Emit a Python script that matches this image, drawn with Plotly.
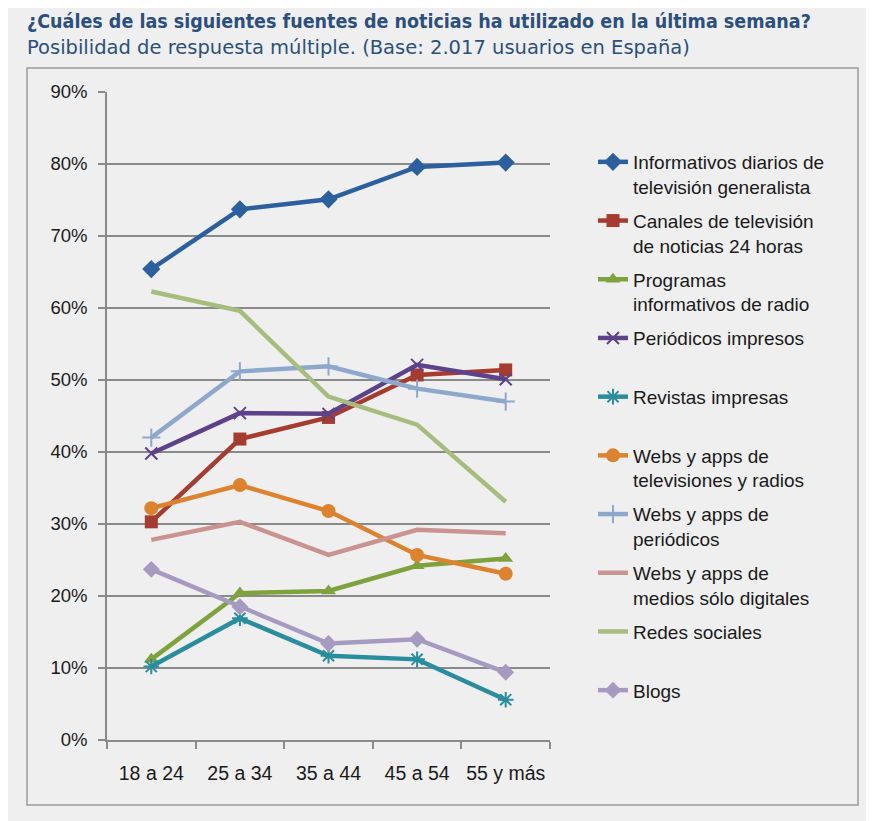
import plotly.graph_objects as go

categories = ["18 a 24", "25 a 34", "35 a 44", "45 a 54", "55 y más"]

informativos_tv = [65.4, 73.7, 75.1, 79.6, 80.2]
canales_24h = [30.3, 41.8, 44.8, 50.7, 51.4]
programas_radio = [11.2, 20.4, 20.7, 24.2, 25.2]
periodicos_impresos = [39.8, 45.4, 45.3, 52.1, 50.1]
revistas_impresas = [10.2, 16.9, 11.7, 11.2, 5.6]
webs_tv_radio = [32.2, 35.4, 31.8, 25.7, 23.1]
webs_periodicos = [42.0, 51.2, 51.9, 48.8, 47.0]
webs_digitales = [27.8, 30.3, 25.7, 29.2, 28.7]
redes_sociales = [62.3, 59.6, 47.7, 43.8, 33.1]
blogs = [23.7, 18.5, 13.4, 14.0, 9.4]

y_ticks = [0, 10, 20, 30, 40, 50, 60, 70, 80, 90]

series = [
    ("Informativos diarios de<br>televisión generalista", informativos_tv, "#2c5f9e", "diamond", 14, 0),
    ("Canales de televisión<br>de noticias 24 horas", canales_24h, "#a63c30", "square", 13, 0),
    ("Programas<br>informativos de radio", programas_radio, "#7ea23c", "triangle-up", 13, 0),
    ("Periódicos impresos<br> ", periodicos_impresos, "#5d4289", "x-thin-open", 12, 2),
    ("Revistas impresas<br> ", revistas_impresas, "#2a8d9e", "asterisk-open", 13, 2),
    ("Webs y apps de<br>televisiones y radios", webs_tv_radio, "#dd822e", "circle", 14, 0),
    ("Webs y apps de<br>periódicos", webs_periodicos, "#8ea8cb", "cross-thin-open", 13, 2),
    ("Webs y apps de<br>medios sólo digitales", webs_digitales, "#c99390", None, 0, 0),
    ("Redes sociales<br> ", redes_sociales, "#a6bd7e", None, 0, 0),
    ("Blogs<br> ", blogs, "#a59bc0", "diamond", 13, 0),
]

FONT = "Liberation Sans, Arial, sans-serif"
TFONT = "DejaVu Sans Condensed, Liberation Sans Narrow, Arial Narrow, sans-serif"
SFONT = "DejaVu Sans, Liberation Sans, sans-serif"

# page body adds 8px offset; figure sized to fill the remaining window
W, H = 866, 813
L, R, T, B = 99, 324, 84, 81
PW, PH = W - L - R, H - T - B


def px_x(x):
    return (x - L) / PW


def px_y(y):
    return (H - B - y) / PH


fig = go.Figure()
for i, (name, vals, color, sym, size, lw) in enumerate(series):
    if sym is None:
        marker = None
        mode = "lines"
    else:
        marker = dict(symbol=sym, size=size, color=color, line=dict(color=color, width=lw))
        mode = "lines+markers"
    fig.add_trace(go.Scatter(
        x=categories, y=vals, name=name, mode=mode,
        line=dict(color=color, width=4.5),
        marker=marker,
        legendgroup=f"g{i}",
    ))

fig.update_layout(
    width=W, height=H,
    paper_bgcolor="#efefef", plot_bgcolor="#efefef",
    margin=dict(l=L, r=R, t=T, b=B),
    font=dict(family=FONT, size=18, color="#1a1a1a"),
    showlegend=True,
    legend=dict(
        xref="container", yref="container",
        x=585 / W, y=1 - 135 / H, xanchor="left", yanchor="top",
        bgcolor="rgba(0,0,0,0)", font=dict(family=FONT, size=19, color="#1a1a1a"),
        tracegroupgap=6.3, valign="top", itemwidth=30, maxheight=1000,
    ),
    xaxis=dict(
        type="category", range=[-0.5, 4.5], automargin=False, tickangle=0,
        showline=True, linecolor="#8a8a8a", linewidth=1.5,
        ticks="outside", ticklen=7, tickcolor="#8a8a8a", tickwidth=1.5,
        tickson="boundaries", showgrid=False, ticklabelstandoff=15,
        tickfont=dict(family=FONT, size=19.5, color="#1a1a1a"),
    ),
    yaxis=dict(
        range=[0, 90], tickvals=y_ticks, ticktext=[f"{v}%" for v in y_ticks],
        automargin=False,
        showline=True, linecolor="#8a8a8a", linewidth=1.5,
        ticks="outside", ticklen=7, tickcolor="#8a8a8a", tickwidth=1.5,
        showgrid=True, gridcolor="#8a8a8a", gridwidth=1.5, zeroline=False,
        ticklabelstandoff=7,
        tickfont=dict(family=FONT, size=18.5, color="#1a1a1a"),
    ),
    shapes=[dict(
        type="rect", xref="paper", yref="paper",
        x0=px_x(19), x1=px_x(850),
        y0=px_y(797), y1=px_y(60),
        line=dict(color="#9a9a9a", width=1.5), fillcolor="rgba(0,0,0,0)", layer="below",
    )],
    annotations=[
        dict(text="<b>¿Cuáles de las siguientes fuentes de noticias ha utilizado en la última semana?</b>",
             xref="paper", yref="paper", x=px_x(17), y=px_y(0),
             xanchor="left", yanchor="top", showarrow=False,
             font=dict(family=TFONT, size=19.5, color="#2b4f7e")),
        dict(text="Posibilidad de respuesta múltiple. (Base: 2.017 usuarios en España)",
             xref="paper", yref="paper", x=px_x(17), y=px_y(40),
             xanchor="left", yanchor="middle", showarrow=False,
             font=dict(family=SFONT, size=19.5, color="#2b4f7e")),
    ],
)

fig.write_html("out.html")
